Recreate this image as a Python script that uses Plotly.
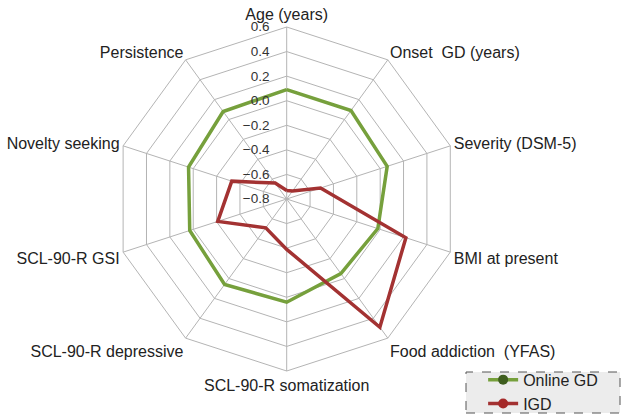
import plotly.graph_objects as go

categories = ["Age (years)", "Onset\u00a0 GD (years)", "Severity (DSM-5)", "BMI at present",
              "Food addiction\u00a0 (YFAS)", "SCL-90-R somatization", "SCL-90-R depressive",
              "SCL-90-R GSI", "Novelty seeking", "Persistence"]
online_gd = [0.09, 0.09, 0.06, -0.02, -0.05, 0.04, 0.06, 0.03, 0.04, 0.08]
igd = [-0.73, -0.72, -0.51, 0.22, 0.49, -0.39, -0.51, -0.21, -0.33, -0.64]
radial_ticks = [-0.8, -0.6, -0.4, -0.2, 0.0, 0.2, 0.4, 0.6]

font_family = "Liberation Sans, Arial, Helvetica, sans-serif"

fig = go.Figure()
fig.add_trace(go.Scatterpolar(
    r=online_gd + online_gd[:1], theta=categories + categories[:1],
    mode="lines+markers", name="Online GD",
    line=dict(color="#76a03c", width=3.5),
    marker=dict(color="#3f5e1f", size=10),
))
fig.add_trace(go.Scatterpolar(
    r=igd + igd[:1], theta=categories + categories[:1],
    mode="lines+markers", name="IGD",
    line=dict(color="#a33232", width=3.5),
    marker=dict(color="#a52a2a", size=10),
))

cx, cy, R = 286.7, 199.0, 172.0
W, H = 625, 417

fig.update_layout(
    width=W, height=H,
    margin=dict(l=0, r=0, t=0, b=0, autoexpand=False),
    paper_bgcolor="white",
    font=dict(family=font_family, size=16, color="#222"),
    polar=dict(
        domain=dict(x=[(cx - R) / W, (cx + R) / W], y=[(H - cy - R) / H, (H - cy + R) / H]),
        bgcolor="white",
        gridshape="linear",
        angularaxis=dict(rotation=90, direction="clockwise", gridcolor="#b4b4b4", linecolor="#b4b4b4",
                         linewidth=1, gridwidth=1, tickfont=dict(size=16, color="#222"),
                         ticks="", showline=True),
        radialaxis=dict(range=[-0.8, 0.6], tickvals=radial_ticks, tickformat=".1f", angle=90,
                        tickangle=90, gridcolor="#b4b4b4", gridwidth=1, showline=False,
                        ticks="outside", ticklen=12, tickcolor="rgba(0,0,0,0)",
                        tickfont=dict(size=13.5, color="#333"), side="counterclockwise"),
    ),
    showlegend=True,
    legend=dict(x=0.773, y=-0.009, xanchor="left", yanchor="bottom", bgcolor="rgba(0,0,0,0)",
                font=dict(size=16, color="#222"), tracegroupgap=0, itemwidth=30),
    shapes=[dict(type="rect", xref="paper", yref="paper", x0=466 / W, x1=620 / W,
                 y0=(H - 413) / H, y1=(H - 372) / H, line=dict(color="#555", width=1, dash="dash"),
                 fillcolor="#ececec", layer="below")],
)

fig.write_html("out.html", config={"displayModeBar": False},
               post_script="document.body.style.margin='0';")
